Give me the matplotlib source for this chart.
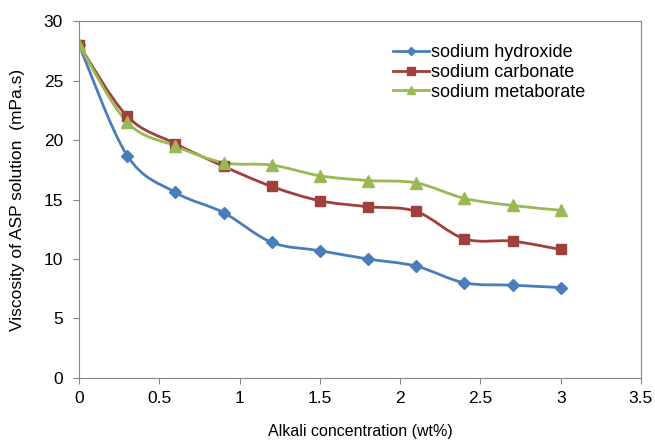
import numpy as np
import matplotlib.pyplot as plt
from matplotlib.path import Path
from matplotlib.patches import PathPatch

plt.rcParams['font.family'] = ['Liberation Sans', 'DejaVu Sans']

conc = [0, 0.3, 0.6, 0.9, 1.2, 1.5, 1.8, 2.1, 2.4, 2.7, 3.0]
hydroxide = [28, 18.7, 15.6, 13.9, 11.4, 10.7, 10.0, 9.4, 8.0, 7.8, 7.6]
carbonate = [28, 22.0, 19.7, 17.8, 16.1, 14.9, 14.4, 14.0, 11.7, 11.5, 10.8]
metaborate = [28, 21.5, 19.5, 18.1, 17.9, 17.0, 16.6, 16.4, 15.1, 14.5, 14.1]

series = [
    ('sodium hydroxide', hydroxide, '#4A7EBB', 'D', 6),
    ('sodium carbonate', carbonate, '#A0403D', 's', 7),
    ('sodium metaborate', metaborate, '#98B954', '^', 8),
]


def smooth_path(x, y, t=0.5):
    # excel-like smoothed line: bezier through the points
    x = np.asarray(x, float)
    y = np.asarray(y, float)
    n = len(x)
    verts = [(x[0], y[0])]
    codes = [Path.MOVETO]
    for i in range(n - 1):
        x0, y0 = (x[i - 1], y[i - 1]) if i > 0 else (x[i], y[i])
        x3, y3 = (x[i + 2], y[i + 2]) if i + 2 < n else (x[i + 1], y[i + 1])
        c1 = (x[i] + (x[i + 1] - x0) * t / 3, y[i] + (y[i + 1] - y0) * t / 3)
        c2 = (x[i + 1] - (x3 - x[i]) * t / 3, y[i + 1] - (y3 - y[i]) * t / 3)
        verts += [c1, c2, (x[i + 1], y[i + 1])]
        codes += [Path.CURVE4] * 3
    return Path(verts, codes)


fig = plt.figure(figsize=(6.55, 4.4), dpi=100)
ax = fig.add_axes([0.1206, 0.141, 0.858, 0.811])

for name, vals, col, mk, ms in series:
    ax.add_patch(PathPatch(smooth_path(conc, vals), fill=False, edgecolor=col, lw=2.0))
    ax.plot(conc, vals, linestyle='none', marker=mk, ms=ms, color=col)
    ax.plot([], [], color=col, lw=2.0, marker=mk, ms=ms, label=name)

ax.set_xlim(0, 3.5)
ax.set_ylim(0, 30)
ax.set_xticks(np.arange(0, 3.51, 0.5))
ax.set_xticklabels(['0', '0.5', '1', '1.5', '2', '2.5', '3', '3.5'])
ax.set_yticks(range(0, 31, 5))

for s in ax.spines.values():
    s.set_color('#868686')
ax.tick_params(colors='#868686', labelcolor='black', labelsize=12.5, length=4.5)
ax.tick_params(axis='y', pad=7)
ax.tick_params(axis='x', pad=5)

ax.set_xlabel('Alkali concentration (wt%)', fontsize=11.5, labelpad=13)
ax.set_ylabel('Viscosity of ASP solution  (mPa.s)', fontsize=12.5)
ax.yaxis.set_label_coords(-0.096, 0.5)

ax.legend(loc='upper left', bbox_to_anchor=(0.546, 0.955), frameon=False, fontsize=13,
          handlelength=2.0, labelspacing=0.15, handletextpad=0.1, borderaxespad=0,
          markerscale=0.75)

fig.savefig('out.png', dpi=100)
